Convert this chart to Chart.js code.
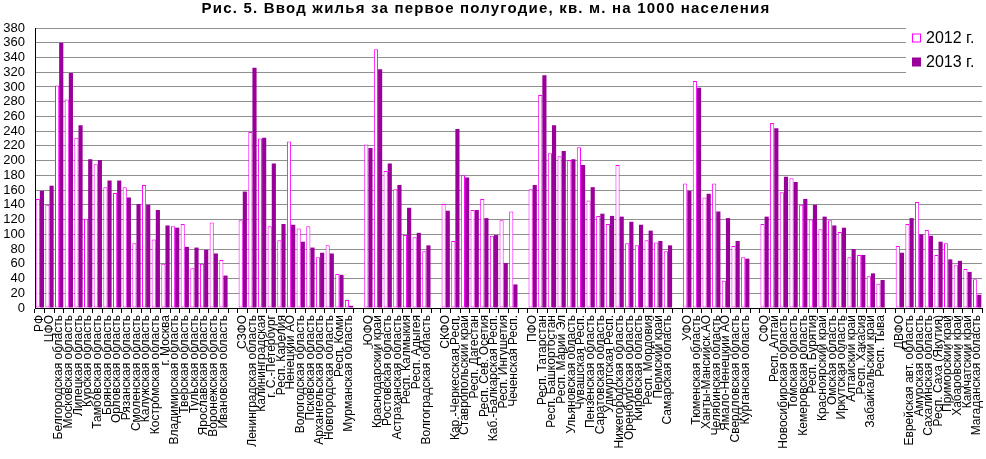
<!DOCTYPE html>
<html>
<head>
<meta charset="utf-8">
<script src="https://cdn.jsdelivr.net/npm/chart.js@4.4.1/dist/chart.umd.min.js"></script>
<style>
  body { margin: 0; background: #fff; }
  #wrap { width: 986px; height: 459px; }
</style>
</head>
<body>
<div id="wrap"><canvas id="housing"></canvas></div>
<script>
// ── DATA ──
const regions = [
  'РФ', 'ЦФО', 'Белгородская область', 'Московская область', 'Липецкая область', 'Курская область',
  'Тамбовская область', 'Брянская область', 'Орловская область', 'Рязанская область', 'Смоленская область',
  'Калужская область', 'Костромская область', 'г. Москва', 'Владимирская область', 'Тверская область',
  'Тульская область', 'Ярославская область', 'Воронежская область', 'Ивановская область', '',
  'СЗФО', 'Ленинградская область', 'Калининградская', 'г. С.-Петербург', 'Респ. Карелия', 'Ненецкий АО',
  'Вологодская область', 'Псковская область', 'Архангельская область', 'Новгородская область', 'Респ. Коми',
  'Мурманская область', '',
  'ЮФО', 'Краснодарский край', 'Ростовская область', 'Астраханская область', 'Респ. Калмыкия',
  'Респ. Адыгея', 'Волгоградская область', '',
  'СКФО', 'Кар.-Черкесская Респ.', 'Ставропольский край', 'Респ. Дагестан', 'Респ. Сев. Осетия',
  'Каб.-Балкарская Респ.', 'Респ. Ингушетия', 'Чеченская Респ.', '',
  'ПФО', 'Респ. Татарстан', 'Респ. Башкортостан', 'Респ. Марий Эл', 'Ульяновская область',
  'Чувашская Респ.', 'Пензенская область', 'Саратовская область', 'Удмуртская Респ.',
  'Нижегородская область', 'Оренбургская область', 'Кировская область', 'Респ. Мордовия',
  'Пермский край', 'Самарская область', '',
  'УФО', 'Тюменская область', 'Ханты-Мансийск.АО', 'Челябинская область', 'Ямало-Ненецкий АО',
  'Свердловская область', 'Курганская область', '',
  'СФО', 'Респ. Алтай', 'Новосибирская область', 'Томская область', 'Кемеровская область',
  'Респ. Бурятия', 'Красноярский край', 'Омская область', 'Иркутская область', 'Алтайский край',
  'Респ. Хакасия', 'Забайкальский край', 'Респ. Тыва', '',
  'ДВФО', 'Еврейская авт. область', 'Амурская область', 'Сахалинская область', 'Респ. Саха (Якутия)',
  'Приморский край', 'Хабаровский край', 'Камчатский край', 'Магаданская область'
];

const v2012 = [
  148, 140, 302, 283, 231, 121, 195, 164, 156, 164, 88, 167, 93, 60, 111, 114, 54, 60, 116, 65, null,
  119, 239, 230, 111, 92, 226, 108, 111, 69, 85, 46, 11, null,
  222, 351, 186, 161, 99, 96, 77, null,
  141, 91, 180, 133, 148, 98, 119, 131, null,
  161, 289, 210, 206, 201, 218, 146, 125, 114, 194, 88, 85, 92, 89, 77, null,
  169, 308, 150, 169, 37, 84, 69, null,
  114, 251, 157, 176, 140, 120, 107, 119, 103, 69, 72, 43, 33, null,
  84, 114, 144, 106, 72, 88, 58, 53, 39
];

const v2013 = [
  159, 166, 360, 319, 248, 202, 201, 173, 173, 150, 141, 140, 133, 112, 109, 83, 82, 79, 74, 44, null,
  158, 326, 231, 196, 114, 113, 90, 82, 75, 74, 45, 3, null,
  217, 324, 196, 167, 136, 102, 85, null,
  132, 243, 177, 133, 122, 99, 61, 32, null,
  167, 316, 248, 213, 202, 194, 164, 128, 125, 124, 117, 113, 105, 91, 85, null,
  159, 299, 155, 131, 122, 91, 67, null,
  124, 244, 178, 171, 148, 140, 124, 112, 109, 80, 72, 47, 38, null,
  75, 122, 100, 98, 90, 66, 64, 49, 18
];

const seriesNames = ['2012 г.', '2013 г.'];
const chartTitle = 'Рис. 5. Ввод жилья за первое полугодие, кв. м. на 1000 населения';
const FONT = '"Liberation Sans", Arial, sans-serif';

// title with wider letter spacing + legend in a white box over the grid
const decor = {
  id: 'decor',
  afterDraw(chart) {
    const ctx = chart.ctx;
    ctx.save();
    ctx.fillStyle = '#000';
    ctx.font = 'bold 15px ' + FONT;
    ctx.letterSpacing = '1.2px';
    ctx.textAlign = 'center';
    ctx.textBaseline = 'middle';
    ctx.fillText(chartTitle, 486, 9);
    ctx.restore();

    ctx.save();
    ctx.fillStyle = '#fff';
    ctx.fillRect(906, 25, 80, 55);
    ctx.font = '16px ' + FONT;
    ctx.textBaseline = 'middle';
    chart.data.datasets.forEach((ds, i) => {
      const y = 38 + i * 24;
      if (i === 0) {
        ctx.fillStyle = '#fff';
        ctx.fillRect(912, y - 4.5, 9, 9);
        ctx.strokeStyle = ds.borderColor;
        ctx.lineWidth = 1;
        ctx.strokeRect(912.5, y - 4, 8, 8);
      } else {
        ctx.fillStyle = ds.backgroundColor;
        ctx.fillRect(912, y - 4.5, 9, 9);
      }
      ctx.fillStyle = '#000';
      ctx.fillText(ds.label, 926, y + 1);
    });
    ctx.restore();
  }
};

new Chart(document.getElementById('housing').getContext('2d'), {
  type: 'bar',
  data: {
    labels: regions,
    datasets: [
      { label: seriesNames[0], data: v2012, backgroundColor: '#ffffff', borderColor: '#ff00ff',
        borderWidth: 1, borderSkipped: false, barPercentage: 1, categoryPercentage: 0.86 },
      { label: seriesNames[1], data: v2013, backgroundColor: '#990099', borderColor: '#990099',
        borderWidth: 0, barPercentage: 1, categoryPercentage: 0.86 }
    ]
  },
  options: {
    responsive: true,
    maintainAspectRatio: false,
    animation: false,
    layout: { padding: { top: 28, right: 4 } },
    plugins: {
      legend: { display: false },
      tooltip: { enabled: false },
      title: { display: false }
    },
    scales: {
      x: {
        grid: { drawOnChartArea: false, drawTicks: true, tickLength: 5, color: '#000', offset: true },
        border: { color: '#000' },
        ticks: {
          autoSkip: false, minRotation: 90, maxRotation: 90, padding: 2,
          color: '#000', font: { family: FONT, size: 12 }
        },
        afterFit: s => { s.height = 151; s.paddingLeft = 0; s.paddingRight = 0; }
      },
      y: {
        min: 0, max: 380,
        grid: { color: '#909090', drawTicks: false },
        border: { color: '#000' },
        ticks: { stepSize: 20, autoSkip: false, padding: 10, color: '#000', font: { family: FONT, size: 13 } },
        afterFit: s => { s.width = 35; }
      }
    }
  },
  plugins: [decor]
});
</script>
</body>
</html>
